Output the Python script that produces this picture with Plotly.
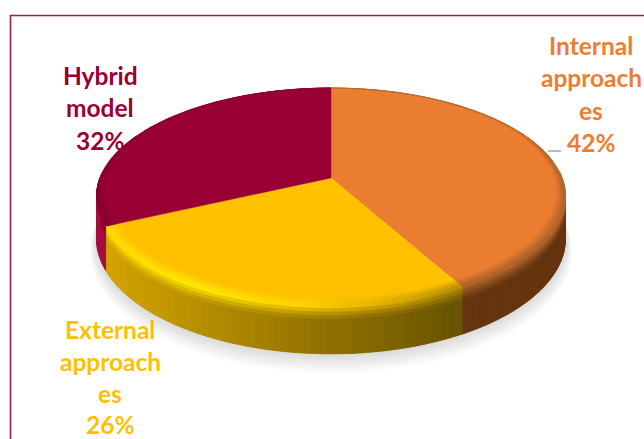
import numpy as np
import plotly.graph_objects as go

# Slice values in drawing order, clockwise from twelve o'clock
categories = ["Internal approaches", "External approaches", "Hybrid model"]
values = [42, 26, 32]
face_colors = ["#EB7D30", "#FFC000", "#990033"]

# Wrapped data labels: text lines with their centre and baselines
label_lines = [
    ["Internal", "approach", "es", "42%"],
    ["External", "approach", "es", "26%"],
    ["Hybrid", "model", "32%"],
]
label_colors = ["#ED7D31", "#FFC000", "#990033"]
label_x = [591, 110, 100]
label_y = [[45, 77, 110, 142], [329, 361, 393, 424], [75, 107, 140]]

# Side-wall colour stops along the horizontal position on the disc
side_stops = [
    [(-1, "#66340F"), (1, "#66340F")],
    [(-0.9, "#D4A400"), (-0.55, "#BE9300"), (0, "#8F7000"), (0.48, "#665200")],
    [(-1, "#A3103F"), (1, "#A3103F")],
]
rim_stops = [
    [(-1, "#A8602A"), (1, "#A8602A")],
    [(-0.9, "#FFDC00"), (-0.5, "#FFEA00"), (-0.1, "#FFD200"), (0.2, "#DFAE00"), (0.48, "#A88600")],
    [(-1, "#84002E"), (1, "#84002E")],
]

# Perspective projection of the disc onto the page
CX, CY = 331.0, 178.0
KP, AY, BX, DEPTH = 0.17, 105.3, 231.1, 40.6


def project(theta, r=1.0, z=0.0):
    t = np.radians(theta)
    u, v = r * np.sin(t), -r * np.cos(t)
    w = 1 - KP * v
    return CX + BX * u / w, CY + (AY * v + z) / w


def to_rgb(c):
    return np.array([int(c[i:i + 2], 16) for i in (1, 3, 5)], dtype=float)


def mix(a, b, f):
    c = a + (b - a) * f
    return "#%02X%02X%02X" % tuple(int(round(x)) for x in c)


def ramp(stops, u):
    xs = [s[0] for s in stops]
    cs = np.array([to_rgb(s[1]) for s in stops])
    return np.array([np.interp(u, xs, cs[:, i]) for i in range(3)])


def polygon(fig, xs, ys, color, opacity=1.0, width=0.7):
    fig.add_trace(go.Scatter(
        x=list(xs), y=list(ys), mode="lines", fill="toself", fillcolor=color,
        line=dict(color=color, width=width), opacity=opacity, hoverinfo="skip", showlegend=False,
    ))


def inner_radius(theta):
    v = -np.cos(np.radians(theta))
    return 1 - 0.05 * np.clip((v + 1.05) / 1.5, 0.06, 1)


fig = go.Figure()

fractions = np.array(values) / sum(values)
edges = np.concatenate([[0], np.cumsum(fractions) * 360])

# Soft shadow cast under the front of the disc
full = np.linspace(0, 360, 181)
for i in range(9):
    grow = (9 - i) / 9
    px, py = project(full, 1 + 0.028 * grow, DEPTH + 12 * grow)
    polygon(fig, px, py, "rgba(0,0,0,1)", opacity=0.014, width=0)

slices = list(zip(edges[:-1], edges[1:], range(3)))

# Side walls: one pass per slice, thin strips so the shading can vary along the rim
bands = [(0, 3, 0.0), (3, 6, 0.3), (6, 9, 0.6), (9, 12, 0.85), (12, DEPTH, 1.0)]
for a0, a1, s in slices:
    # Base wall under the strips closes any hairlines between them
    arc = np.linspace(a0, a1, 80)
    xa, ya = project(arc, 1, 0)
    xb, yb = project(arc[::-1], 1, DEPTH)
    base = ramp(side_stops[s], np.sin(np.radians((a0 + a1) / 2)))
    polygon(fig, [*xa, *xb, xa[0]], [*ya, *yb, ya[0]], mix(base, base, 0), width=0.3)

    steps = np.arange(a0, a1, 1.5).tolist() + [a1]
    for t0, t1 in zip(steps[:-1], steps[1:]):
        tm = (t0 + t1) / 2
        if -np.cos(np.radians(tm)) < -0.05:
            continue
        u = np.sin(np.radians(tm))
        side = ramp(side_stops[s], u)
        rim = ramp(rim_stops[s], u)
        for z0, z1, f in bands:
            xa, ya = project(np.array([t0, t1]), 1, z0)
            xb, yb = project(np.array([t1, t0]), 1, z1)
            polygon(fig, [*xa, *xb, xa[0]], [*ya, *yb, ya[0]], mix(rim, side, f), width=0.9)

# Flat top faces
for a0, a1, s in slices:
    arc = np.arange(a0, a1, 1.0).tolist() + [a1]
    px, py = project(np.array(arc), 1.0)
    polygon(fig, [CX, *px, CX], [CY, *py, CY], face_colors[s], width=0.4)

# Bevel between face and wall
for a0, a1, s in slices:
    steps = np.arange(a0, a1, 2.0).tolist() + [a1]
    face = to_rgb(face_colors[s])
    for t0, t1 in zip(steps[:-1], steps[1:]):
        tm = (t0 + t1) / 2
        u = np.sin(np.radians(tm))
        rim = ramp(rim_stops[s], u)
        rin = inner_radius(tm)
        for k in range(4):
            r0 = rin + (1 - rin) * k / 4
            r1 = rin + (1 - rin) * (k + 1) / 4
            f = (k + 0.5) / 4
            xa, ya = project(np.array([t0, t1]), r0)
            xb, yb = project(np.array([t1, t0]), r1)
            polygon(fig, [*xa, *xb, xa[0]], [*ya, *yb, ya[0]], mix(face, rim, f), width=0.4)

# Leader line of the first data label
fig.add_shape(type="line", x0=548, x1=561, y0=151, y1=151, line=dict(color="#A6A6A6", width=1.5))

# Data labels, one annotation per wrapped line
for lines, color, x, ys in zip(label_lines, label_colors, label_x, label_y):
    for text, y in zip(lines, ys):
        fig.add_annotation(
            x=x, y=y, text=text, showarrow=False, xanchor="center", yanchor="middle",
            font=dict(family="Lato", size=24.5, color=color, weight="bold"),
        )

# Chart frame, open past the right and bottom page edges
fig.add_shape(type="rect", x0=10.5, y0=15.5, x1=660, y1=460, line=dict(color="#A6194C", width=1.6), layer="above")

fig.update_layout(
    width=644, height=439, margin=dict(l=0, r=0, t=0, b=0),
    paper_bgcolor="white", plot_bgcolor="white", showlegend=False,
    xaxis=dict(range=[0, 644], visible=False, fixedrange=True),
    yaxis=dict(range=[439, 0], visible=False, fixedrange=True),
)
fig.write_html("out.html", config=dict(displayModeBar=False))
